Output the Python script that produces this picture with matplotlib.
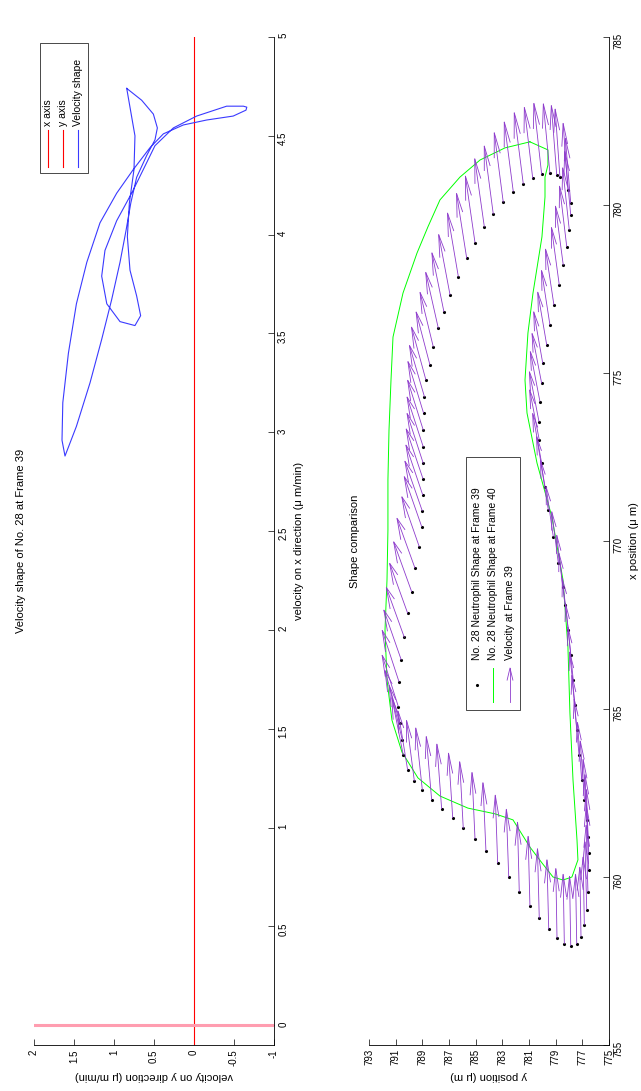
import numpy as np
import matplotlib
matplotlib.use("Agg")
import matplotlib.pyplot as plt
from matplotlib.collections import LineCollection
from matplotlib.patches import Rectangle
from matplotlib.ticker import FuncFormatter

plt.rcParams["font.family"] = ["Liberation Sans", "DejaVu Sans"]
plt.rcParams["axes.unicode_minus"] = False

# ── Velocity shape of cell 28, frame 39 (vx, vy along the boundary) ─────────
VEL_SHAPE_VX = [4.74, 4.50, 4.33, 4.16, 3.99, 3.82, 3.69, 3.59, 3.54,
                3.56, 3.65, 3.79, 3.92, 4.07, 4.21, 4.33, 4.45,
                4.54, 4.60, 4.65, 4.65, 4.645, 4.63,
                4.60, 4.58, 4.555, 4.51,
                4.44, 4.33, 4.21, 4.06, 3.86, 3.65, 3.40, 3.15, 2.96, 2.88,
                3.03, 3.25, 3.47, 3.67, 3.86, 4.02, 4.16, 4.29, 4.40, 4.48,
                4.54, 4.61, 4.68, 4.74]
VEL_SHAPE_VY = [0.841, 0.738, 0.75, 0.808, 0.833, 0.80, 0.717, 0.667, 0.738,
                0.925, 1.09, 1.154, 1.113, 0.967, 0.779, 0.633, 0.488,
                0.258, -0.033, -0.408, -0.617, -0.66, -0.65,
                -0.49, -0.158, 0.133, 0.383,
                0.55, 0.758, 0.966, 1.175, 1.34, 1.47, 1.57, 1.64, 1.65, 1.6125,
                1.47, 1.30, 1.154, 1.03, 0.925, 0.85, 0.79, 0.717, 0.592, 0.4875,
                0.458, 0.508, 0.654, 0.841]

# reference axes drawn in red
X_AXIS_SPAN = [-0.1, 5]
Y_AXIS_SPAN = [-1, 2]

# ── Shape of neutrophil 28 at frame 39 (boundary points) ─────────────────────
SHAPE39_X = [780.83, 780.89, 780.94, 780.91, 780.79, 780.63, 780.40, 780.08,
             779.73, 779.35, 778.88, 778.41, 777.87, 777.32, 776.82, 776.33,
             775.78, 775.24, 774.79, 774.29, 773.81, 773.30, 772.80, 772.31,
             771.85, 771.37, 770.89, 770.43, 769.83, 769.19, 768.49, 767.85,
             767.13, 766.46, 765.81, 765.07, 764.57, 764.08, 763.63, 763.18,
             762.86, 762.59, 762.29, 762.02, 761.75, 761.45, 761.13, 760.78,
             760.41, 759.99, 759.56, 759.14, 758.77, 758.44, 758.18, 758.01,
             757.95, 758.01, 758.22, 758.57, 759.02, 759.56, 760.21, 760.71,
             761.20, 761.70, 762.29, 762.89, 763.63, 764.38, 765.12, 765.86,
             766.61, 767.35, 768.10, 768.64, 769.34, 770.13, 770.92, 771.62,
             772.31, 773.01, 773.55, 774.15, 774.69, 775.29, 775.83, 776.43,
             777.02, 777.62, 778.21, 778.76, 779.26, 779.70, 780.05, 780.45]
SHAPE39_Y = [778.68, 778.92, 779.43, 780.05, 780.72, 781.43, 782.18, 782.93,
             783.68, 784.35, 785.05, 785.67, 786.30, 786.92, 787.38, 787.80,
             788.18, 788.43, 788.73, 788.84, 788.91, 788.93, 788.93, 788.93,
             788.95, 788.97, 789.00, 789.05, 789.23, 789.55, 789.80, 790.10,
             790.35, 790.58, 790.75, 790.80, 790.68, 790.50, 790.43, 790.10,
             789.60, 789.00, 788.30, 787.55, 786.72, 785.93, 785.05, 784.23,
             783.35, 782.52, 781.73, 780.93, 780.23, 779.52, 778.90, 778.35,
             777.87, 777.42, 777.10, 776.85, 776.67, 776.58, 776.52, 776.52,
             776.58, 776.67, 776.84, 777.05, 777.25, 777.42, 777.55, 777.68,
             777.86, 778.05, 778.30, 778.47, 778.80, 779.18, 779.55, 779.80,
             780.05, 780.23, 780.25, 780.18, 780.05, 779.97, 779.67, 779.43,
             779.13, 778.73, 778.43, 778.17, 777.98, 777.87, 777.87, 778.08]

# velocity at each boundary point, frame 39
VEL39_U = [4.5, 4.6, 4.6,
           4.7, 4.7, 4.7, 4.6, 4.6, 4.5, 4.5, 4.4, 4.3, 4.2, 4.0, 3.9, 3.7,
           3.6, 3.5, 3.5, 3.4, 3.4, 3.3, 3.3, 3.3,
           3.3, 3.3, 3.3, 3.3, 3.3, 3.3, 3.3, 3.3, 3.3, 3.3, 3.4, 3.4,
           3.5, 3.6, 3.8, 3.9,
           4.0, 4.1, 4.2, 4.3, 4.3, 4.4, 4.4, 4.5, 4.5, 4.5, 4.6, 4.6,
           4.6, 4.6, 4.6, 4.6, 4.6, 4.6, 4.6, 4.5, 4.5, 4.4, 4.3, 4.2, 4.1, 4.0,
           3.9, 3.8, 3.7, 3.6, 3.5, 3.5, 3.4, 3.4, 3.4, 3.4, 3.4, 3.3, 3.3, 3.3,
           3.3, 3.3, 3.3, 3.3, 3.3, 3.4, 3.5, 3.6, 3.7, 3.8,
           3.9, 4.0, 4.1, 4.2, 4.3, 4.4]
VEL39_V = [0.8, 0.9, 1.1,
           1.3, 1.4, 1.5, 1.5, 1.5, 1.5, 1.6, 1.6, 1.7, 1.8, 1.9, 2.0, 2.1,
           2.2, 2.3, 2.4, 2.5, 2.6, 2.6, 2.7, 2.7,
           2.8, 2.8, 2.9, 2.9, 2.9, 3.0, 3.0, 3.0, 3.0, 2.9, 2.8, 2.7,
           2.5, 2.2, 1.9, 1.6,
           1.3, 1.1, 0.9, 0.8, 0.7, 0.6, 0.5, 0.5, 0.4, 0.4, 0.3, 0.3,
           0.3, 0.3, 0.2, 0.2, 0.2, 0.2, 0.2, 0.2, 0.3, 0.3, 0.4, 0.4, 0.5, 0.6,
           0.7, 0.7, 0.8, 0.8, 0.9, 0.9, 0.9, 1.0, 1.0, 1.0, 1.1, 1.2, 1.3, 1.4,
           1.5, 1.6, 1.6, 1.6, 1.6, 1.5, 1.5, 1.4, 1.4, 1.3,
           1.3, 1.2, 1.1, 1.0, 0.9, 0.8]

# ── Shape of neutrophil 28 at frame 40 (closed outline) ──────────────────────
SHAPE40_X = [781.88, 781.70, 781.34, 780.83, 780.15, 779.35, 778.57, 777.38,
             776.07, 774.79, 773.30, 771.82, 770.33, 768.84, 767.35, 765.86,
             764.67, 763.72, 762.95, 762.41, 762.05, 761.88, 761.70, 760.89,
             760.42, 760.00, 759.91, 760.00, 760.51, 761.10, 762.89, 764.88,
             766.85, 768.84, 770.71, 772.32, 773.81, 774.79, 776.19, 777.38,
             779.05, 780.24, 780.83, 781.19, 781.64, 781.88]
SHAPE40_Y = [780.93, 782.80, 784.67, 786.18, 787.68, 788.58, 789.40, 790.45,
             791.20, 791.35, 791.50, 791.58, 791.58, 791.65, 791.80, 791.65,
             791.28, 790.53, 789.33, 787.68, 785.58, 783.55, 782.20, 780.93,
             780.03, 779.20, 778.45, 777.78, 777.33, 777.40, 777.70, 777.93,
             778.08, 778.45, 779.28, 780.40, 781.15, 781.30, 781.08, 780.70,
             780.03, 779.80, 779.80, 779.58, 779.58, 780.93]

ARROW_SCALE = 0.45            # quiver scaling of the velocity vectors
HEAD_ALPHA, HEAD_BETA = 0.33, 0.33

FONT_TICK = 7
FONT_LABEL = 8
FONT_LEGEND = 7.5
ARROW_COLOR = "#8e3ccc"

W, H = 641, 1091
fig = plt.figure(figsize=(W / 100, H / 100), dpi=100)


def fx(px):
    return px / W


def fy(py):
    return 1 - py / H


def matlab_fmt(v, _pos):
    return "%g" % v


def style_axes(ax):
    # MATLAB-like frame, figure turned a quarter turn
    ax.spines["top"].set_visible(False)
    ax.spines["left"].set_visible(False)
    for s in ("right", "bottom"):
        ax.spines[s].set_linewidth(0.6)
    ax.yaxis.tick_right()
    ax.yaxis.set_label_position("right")
    ax.tick_params(axis="both", direction="in", length=4, width=0.5,
                   labelsize=FONT_TICK, labelrotation=90, pad=3)
    ax.xaxis.set_major_formatter(FuncFormatter(matlab_fmt))
    ax.yaxis.set_major_formatter(FuncFormatter(matlab_fmt))


# ── Panel 1 : velocity shape ────────────────────────────────────────────────
ax1 = fig.add_axes([fx(34), fy(1045), (274 - 34) / W, 1008 / H])
ax1.plot([0, 0], X_AXIS_SPAN, color="#ff0000", lw=0.8)
ax1.plot(Y_AXIS_SPAN, [0, 0], color="#ff9db0", lw=2.2)
ax1.plot(VEL_SHAPE_VY, VEL_SHAPE_VX, color="#3a3aff", lw=0.8)
ax1.set_xlim(2, -1)
ax1.set_ylim(-0.1, 5)
ax1.set_xticks(np.arange(-1, 2.01, 0.5))
ax1.set_yticks(np.arange(0, 5.01, 0.5))
style_axes(ax1)
ax1.set_xlabel("velocity on y direction (\u03bc m/min)", fontsize=FONT_LABEL,
               rotation=180, labelpad=4)
ax1.set_ylabel("velocity on x direction (\u03bc m/min)", fontsize=FONT_LABEL,
               rotation=90, labelpad=4)
fig.text(fx(21), fy(541), "Velocity shape of No. 28 at Frame 39",
         rotation=90, ha="center", va="center", fontsize=FONT_LABEL)

# legend (drawn by hand so it turns with the panel)
ax1.add_patch(Rectangle((0.025, 0.865), 0.2, 0.129, transform=ax1.transAxes,
                        facecolor="white", edgecolor="black", lw=0.5, zorder=5))
for xp, col, lab in zip([0.058, 0.121, 0.183], ["#ff0000", "#ff0000", "#3a3aff"],
                        ["x axis", "y axis", "Velocity shape"]):
    ax1.plot([xp, xp], [0.871, 0.908], color=col, lw=0.8,
             transform=ax1.transAxes, zorder=6)
    ax1.text(xp, 0.912, lab, rotation=90, ha="center", va="bottom",
             fontsize=FONT_LEGEND, transform=ax1.transAxes, zorder=6)

# ── Panel 2 : shape comparison ──────────────────────────────────────────────
ax2 = fig.add_axes([fx(369), fy(1045), (609 - 369) / W, 1008 / H])
ax2.plot(SHAPE39_Y, SHAPE39_X, ".", color="black", ms=2.5, zorder=3)
ax2.plot(SHAPE40_Y, SHAPE40_X, color="#00ff00", lw=0.7, zorder=2)

# velocity arrows, MATLAB quiver style (shaft + two barbs in data units)
px = np.array(SHAPE39_X)
py = np.array(SHAPE39_Y)
u = np.array(VEL39_U) * ARROW_SCALE
v = np.array(VEL39_V) * ARROW_SCALE
tx, ty = px + u, py + v
b1x = tx - HEAD_ALPHA * (u + HEAD_BETA * v)
b1y = ty - HEAD_ALPHA * (v - HEAD_BETA * u)
b2x = tx - HEAD_ALPHA * (u - HEAD_BETA * v)
b2y = ty - HEAD_ALPHA * (v + HEAD_BETA * u)
segs = []
for i in range(len(px)):
    segs.append([(py[i], px[i]), (ty[i], tx[i])])
    segs.append([(b1y[i], b1x[i]), (ty[i], tx[i]), (b2y[i], b2x[i])])
ax2.add_collection(LineCollection(segs, colors=ARROW_COLOR, linewidths=0.6,
                                  zorder=4))

ax2.set_xlim(793, 775)
ax2.set_ylim(755, 785)
ax2.set_xticks(np.arange(775, 793.1, 2))
ax2.set_yticks(np.arange(755, 785.1, 5))
style_axes(ax2)
ax2.set_xlabel("y position (\u03bc m)", fontsize=FONT_LABEL, rotation=180,
               labelpad=4)
ax2.set_ylabel("x position (\u03bc m)", fontsize=FONT_LABEL, rotation=90,
               labelpad=4)
fig.text(fx(355), fy(541), "Shape comparison", rotation=90, ha="center",
         va="center", fontsize=FONT_LABEL)

ax2.add_patch(Rectangle((0.404, 0.332), 0.225, 0.251, transform=ax2.transAxes,
                        facecolor="white", edgecolor="black", lw=0.5, zorder=5))
lx = [0.448, 0.517, 0.5875]
ax2.plot([lx[0]], [0.357], ".", color="black", ms=2.5,
         transform=ax2.transAxes, zorder=6)
ax2.plot([lx[1], lx[1]], [0.340, 0.374], color="#00ff00", lw=0.7,
         transform=ax2.transAxes, zorder=6)
ax2.plot([lx[2], lx[2]], [0.340, 0.374], color=ARROW_COLOR, lw=0.6,
         transform=ax2.transAxes, zorder=6)
ax2.plot([lx[2] - 0.012, lx[2], lx[2] + 0.012], [0.362, 0.374, 0.362],
         color=ARROW_COLOR, lw=0.6, transform=ax2.transAxes, zorder=6)
for xp, lab in zip(lx, ["No. 28 Neutrophil Shape at Frame 39",
                        "No. 28 Neutrophil Shape at Frame 40",
                        "Velocity at Frame 39"]):
    ax2.text(xp, 0.382, lab, rotation=90, ha="center", va="bottom",
             fontsize=FONT_LEGEND, transform=ax2.transAxes, zorder=6)

fig.savefig("out.png", dpi=100)
plt.close(fig)
